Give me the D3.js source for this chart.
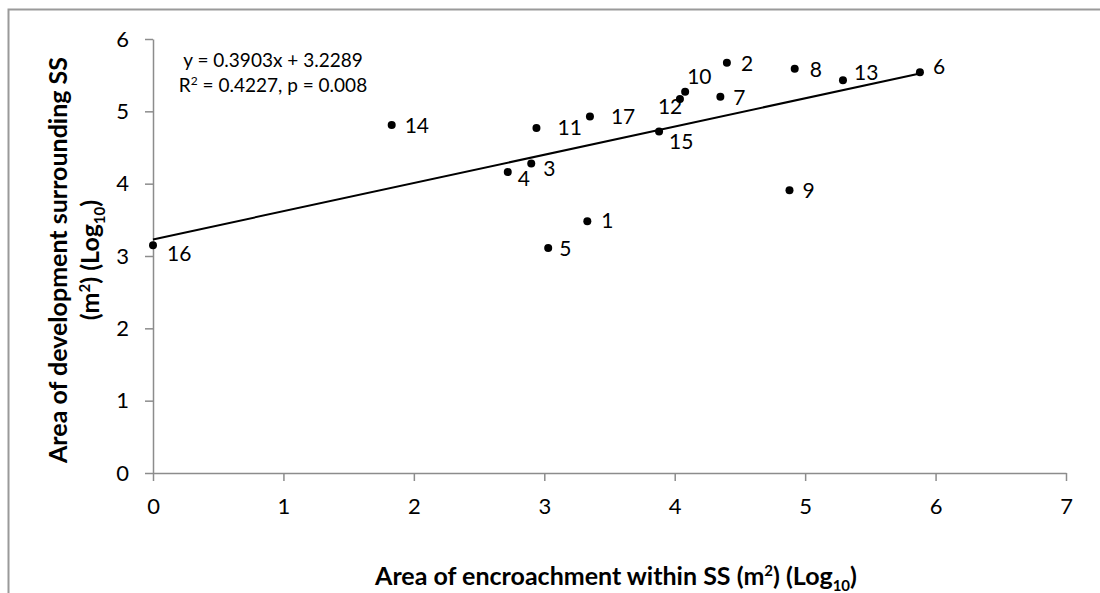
<!DOCTYPE html>
<meta charset="utf-8">
<style>
body { margin: 0; background: #fff; }
svg text { font-family: Lato, "Open Sans", sans-serif; fill: #000; }
.axis path, .axis line { stroke: #8c8c8c; stroke-width: 1.5px; }
.axis text { font-size: 22px; }
.pt-label { font-size: 21px; }
.eq { font-size: 19px; }
.title { font-size: 25px; font-weight: bold; }
</style>
<svg width="1100" height="593"></svg>
<script src="https://cdn.jsdelivr.net/npm/d3@7"></script>
<script>

// site numbers and their two log10 areas
var siteIds      = [1, 2, 3, 4, 5, 6, 7, 8, 9, 10, 11, 12, 13, 14, 15, 16, 17];
var encroachment = [3.33, 4.40, 2.90, 2.72, 3.03, 5.88, 4.35, 4.92, 4.88, 4.08, 2.94, 4.04, 5.29, 1.83, 3.88, 0.00, 3.35];
var development  = [3.48, 5.67, 4.28, 4.16, 3.11, 5.54, 5.20, 5.59, 3.91, 5.27, 4.77, 5.17, 5.43, 4.81, 4.72, 3.15, 4.93];

// trendline shown on the chart
var slope = 0.3903, intercept = 3.2289;

var xTicks = [0, 1, 2, 3, 4, 5, 6, 7];
var yTicks = [0, 1, 2, 3, 4, 5, 6];

// where each data label sits relative to its point (px)
var labelOffset = {
  1: [14, 7], 2: [14, 8], 3: [12, 13], 4: [10, 14], 5: [11, 8], 6: [13, 2],
  7: [13, 8], 8: [15, 8], 9: [13, 8], 10: [2, -8], 11: [21, 7], 12: [-22, 15],
  13: [11, 0], 14: [13, 8], 15: [10, 17], 16: [14, 16], 17: [21, 8]
};

var svg = d3.select("svg");

// chart frame (only top/left edges are visible in the picture)
svg.append("rect")
  .attr("x", 8.5).attr("y", 9.5)
  .attr("width", 1200).attr("height", 700)
  .attr("fill", "none")
  .attr("stroke", "#9a9a9a")
  .attr("stroke-width", 2);

var x = d3.scaleLinear().domain([0, 7]).range([153, 1066]);
var y = d3.scaleLinear().domain([0, 6]).range([473, 39]);

svg.append("g")
  .attr("class", "axis")
  .attr("transform", "translate(0," + y(0) + ")")
  .call(d3.axisBottom(x).tickValues(xTicks).tickFormat(d3.format("d"))
        .tickSize(8).tickSizeOuter(0).tickPadding(17));

svg.append("g")
  .attr("class", "axis")
  .attr("transform", "translate(" + x(0) + ",0)")
  .call(d3.axisLeft(y).tickValues(yTicks).tickFormat(d3.format("d"))
        .tickSize(8).tickSizeOuter(0).tickPadding(16));

var points = siteIds.map(function(id, i) {
  return {id: id, x: encroachment[i], y: development[i]};
});

// trendline over the data range
var xMax = d3.max(encroachment);
svg.append("line")
  .attr("x1", x(0)).attr("y1", y(intercept))
  .attr("x2", x(xMax)).attr("y2", y(slope * xMax + intercept))
  .attr("stroke", "#000")
  .attr("stroke-width", 2);

svg.append("g")
  .selectAll("circle")
  .data(points)
  .enter()
  .append("circle")
  .attr("cx", function(d) { return x(d.x); })
  .attr("cy", function(d) { return y(d.y); })
  .attr("r", 4)
  .attr("fill", "#000");

svg.append("g")
  .selectAll("text")
  .data(points)
  .enter()
  .append("text")
  .attr("class", "pt-label")
  .attr("x", function(d) { return x(d.x) + labelOffset[d.id][0]; })
  .attr("y", function(d) { return y(d.y) + labelOffset[d.id][1]; })
  .text(function(d) { return d.id; });

// equation box
var eq = svg.append("text").attr("class", "eq").attr("text-anchor", "middle");
eq.append("tspan").attr("x", 273).attr("y", 67).text("y = 0.3903x + 3.2289");
var l2 = eq.append("tspan").attr("x", 273).attr("y", 92);
l2.append("tspan").text("R");
l2.append("tspan").attr("font-size", "12px").attr("dy", -7).text("2");
l2.append("tspan").attr("dy", 7).text(" = 0.4227, p = 0.008");

// x axis title
var xt = svg.append("text").attr("class", "title")
  .attr("text-anchor", "middle")
  .attr("x", 616).attr("y", 585);
xt.append("tspan").text("Area of encroachment within SS (m");
xt.append("tspan").attr("font-size", "15px").attr("dy", -9).text("2");
xt.append("tspan").attr("dy", 9).text(") (Log");
xt.append("tspan").attr("font-size", "15px").attr("dy", 6).text("10");
xt.append("tspan").attr("dy", -6).text(")");

// y axis title (two lines)
var yt = svg.append("g").attr("transform", "translate(0,260) rotate(-90)");
yt.append("text").attr("class", "title")
  .attr("text-anchor", "middle")
  .attr("x", 0).attr("y", 67)
  .text("Area of development surrounding SS");
var yt2 = yt.append("text").attr("class", "title")
  .attr("text-anchor", "middle")
  .attr("x", 0).attr("y", 99);
yt2.append("tspan").text("(m");
yt2.append("tspan").attr("font-size", "15px").attr("dy", -9).text("2");
yt2.append("tspan").attr("dy", 9).text(") (Log");
yt2.append("tspan").attr("font-size", "15px").attr("dy", 6).text("10");
yt2.append("tspan").attr("dy", -6).text(")");

</script>
